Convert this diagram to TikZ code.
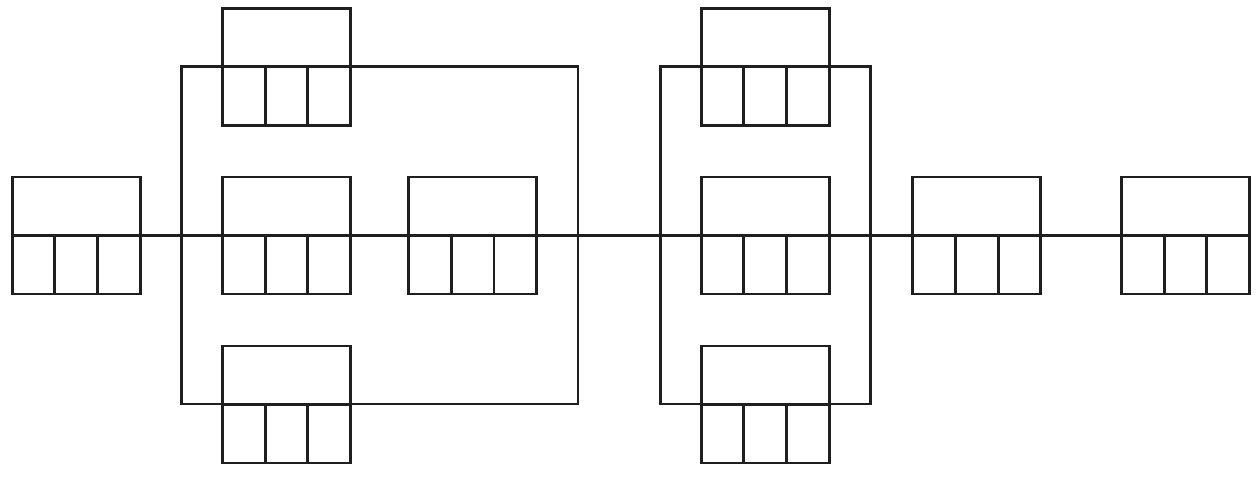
\documentclass[tikz,border=0pt]{standalone}
\usetikzlibrary{calc}
\begin{document}
\begin{tikzpicture}[x=0.02cm,y=-0.02cm,
  ln/.style={line width=0.058cm,draw=black!88},
  blk/.style={ln,rectangle,inner sep=0pt,minimum width=2.56cm,minimum height=2.34cm,
    path picture={
      \draw[ln] (path picture bounding box.west) -- (path picture bounding box.east);
      \draw[ln] ($(path picture bounding box.south west)!0.3333!(path picture bounding box.south east)$) -- ++(0,1.17cm);
      \draw[ln] ($(path picture bounding box.south west)!0.6667!(path picture bounding box.south east)$) -- ++(0,1.17cm);
    }},
  frm/.style={ln,rectangle,inner sep=0pt}]
\useasboundingbox (0,0) rectangle (1258,477);
% frames
\node[frm,minimum width=7.93cm,minimum height=6.746cm] (f1) at (379.8,235.4) {};
\node[frm,minimum width=4.2cm,minimum height=6.746cm] (f2) at (765.3,235.4) {};
% blocks
\node[blk] (b1) at (76.2,235.5) {};
\node[blk] (t1) at (286.5,67) {};
\node[blk] (m1) at (286.5,235.5) {};
\node[blk] (r1) at (472.7,235.5) {};
\node[blk] (u1) at (286.5,404.5) {};
\node[blk] (t2) at (765.2,67) {};
\node[blk] (m2) at (765.2,235.5) {};
\node[blk] (u2) at (765.2,404.5) {};
\node[blk] (b8) at (976.8,235.5) {};
\node[blk] (b9) at (1185.6,235.5) {};
% connectors
\draw[ln] (b1.east) -- (m1.west);
\draw[ln] (m1.east) -- (r1.west);
\draw[ln] (r1.east) -- (m2.west);
\draw[ln] (m2.east) -- (b8.west);
\draw[ln] (b8.east) -- (b9.west);
\end{tikzpicture}
\end{document}
